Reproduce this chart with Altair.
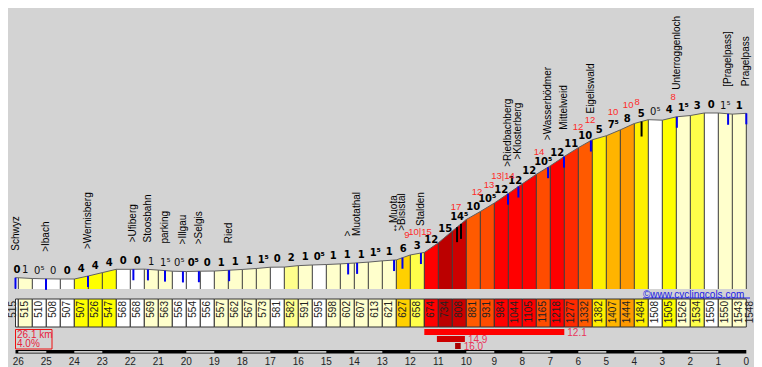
import altair as alt
import pandas as pd
import numpy as np

# ---------------- data ----------------
START_ELEV = 515
ELEVS = [515, 510, 508, 507, 507, 526, 547, 568, 568, 569, 563, 556, 554, 556, 557,
         562, 567, 573, 581, 582, 591, 595, 598, 602, 607, 613, 621, 627, 658, 674,
         734, 808, 881, 931, 984, 1044, 1105, 1165, 1218, 1277, 1332, 1382, 1407,
         1444, 1484, 1508, 1505, 1526, 1534, 1550, 1550, 1543]
END_ELEV = 1548
TOTAL_KM = 26.1
FIRST_KM = 0.1
STEP_KM = 0.5
GRAD = ["0", "1", "0⁵", "0", "0", "4", "4", "4", "0", "0", "1", "1⁵", "0⁵", "0⁵", "0",
        "1", "1", "1", "1⁵", "0", "2", "1", "0⁵", "1", "1", "1", "1⁵", "1", "6", "3",
        "12", "15", "14⁵", "10", "10⁵", "12", "12", "12", "10⁵", "12", "11", "10", "5",
        "7⁵", "8", "5", "0⁵", "4", "1⁵", "3", "0", "1⁵", "1"]
PLACE_NAMES = ["Schwyz", ">Ibach", ">Wernisberg", ">Ufiberg", "Stoosbahn", "parking",
               ">Illgau", ">Selgis", "Ried", ">", "Muotathal", "↔Muota", ">Bisistal",
               "Stalden", ">Riedbachberg", ">Klosterberg", ">Wasserbödmer", "Mittelweid",
               "Eigeliswald", "Unterroggenloch", "[Pragelpass]", "Pragelpass"]
PLACE_KM = [0.0, 1.09, 2.59, 4.21, 4.73, 5.34, 5.98, 6.55, 7.63, 11.88, 12.2, 13.52,
            13.82, 14.48, 17.59, 17.96, 19.02, 19.59, 20.55, 23.62, 25.45, 26.1]
BLACK_KM = [15.77, 15.91, 22.36]
RED_TXT = ["9", "10|15", "17", "12", "13", "13|14", "14", "12", "12", "10", "10", "8", "8"]
RED_KM = [13.98, 14.45, 15.73, 16.48, 16.91, 17.41, 18.7, 20.09, 20.52, 21.34, 21.88, 22.2, 23.49]
MAX_VALS = ["12.1", "14.9", "16.0"]
MAX_FROM = [14.6, 15.05, 15.7]
MAX_TO = [19.6, 16.05, 15.9]
KM_TICKS = list(range(26, -1, -1))

# ---------------- derived tables ----------------
bkm = [0.0] + [FIRST_KM + STEP_KM * k for k in range(len(ELEVS))] + [TOTAL_KM]
E = [START_ELEV] + ELEVS + [END_ELEV]


def grad_color(lbl):
    v = float(lbl.replace("⁵", ".5"))
    if v <= 0.5: return "#ffffff"
    if v < 2: return "#ffffcc"
    if v < 3: return "#ffff8c"
    if v < 4: return "#ffff4a"
    if v < 5: return "#ffff00"
    if v < 6: return "#fff000"
    if v < 7: return "#ffd000"
    if v < 8: return "#ffb400"
    if v < 9: return "#ff9900"
    if v < 10.5: return "#ff5a00"
    if v < 11: return "#ff4c00"
    if v < 12: return "#ff2a00"
    if v < 14: return "#ff0000"
    if v < 15: return "#cc0000"
    return "#bb0000"


area_rows, seg_rows = [], []
for i, g in enumerate(GRAD):
    c = grad_color(g)
    area_rows.append(dict(km=bkm[i], e=E[i], seg=i, col=c))
    area_rows.append(dict(km=bkm[i + 1], e=E[i + 1], seg=i, col=c))
    seg_rows.append(dict(k0=bkm[i], k1=bkm[i + 1], mid=(bkm[i] + bkm[i + 1]) / 2,
                         emid=(E[i] + E[i + 1]) / 2, lbl=g, desc=E[i + 1] < E[i], col=c,
                         elab=str(E[i]) if i > 0 else ""))
area_df = pd.DataFrame(area_rows)
seg_df = pd.DataFrame(seg_rows)
bound_df = pd.DataFrame(dict(km=bkm, e=E))
elab_df = pd.DataFrame(dict(km=list(seg_df["mid"][1:]) + [bkm[0] - 0.09, bkm[-1] + 0.14],
                            t=list(seg_df["elab"][1:]) + [str(E[0]), str(E[-1])]))
place_df = pd.DataFrame(dict(km=PLACE_KM, name=PLACE_NAMES, e=np.interp(PLACE_KM, bkm, E)))
black_df = pd.DataFrame(dict(km=BLACK_KM, e=np.interp(BLACK_KM, bkm, E)))
red_df = pd.DataFrame(dict(km=RED_KM, t=RED_TXT, e=np.interp(RED_KM, bkm, E)))
ticks_df = pd.DataFrame(dict(km=[TOTAL_KM - k for k in KM_TICKS], t=[str(k) for k in KM_TICKS]))
stripe_df = pd.DataFrame(dict(k0=[TOTAL_KM - k for k in KM_TICKS[:-1:2]],
                              k1=[TOTAL_KM - k + 1 for k in KM_TICKS[:-1:2]]))
avg = (E[-1] - E[0]) / (TOTAL_KM * 10)
one = pd.DataFrame(dict(a=[0]))

# ---------------- scales / styles ----------------
PX_KM = 28
X0 = 7.5
BOTTOM = 281
xs = alt.Scale(domain=[0, TOTAL_KM], range=[X0, X0 + TOTAL_KM * PX_KM], nice=False, zero=False)
ys = alt.Scale(domain=[444.17, 2209.7], range=[BOTTOM, 0], nice=False, zero=False)
FONT = "Liberation Sans"
BOLDFONT = "DejaVu Sans"
NARROW = "Liberation Sans Narrow, Liberation Sans"


def X(f):
    return alt.X(f + ":Q", scale=xs, axis=None)


def Y(f):
    return alt.Y(f + ":Q", scale=ys, axis=None, stack=None)


layers = []
layers.append(alt.Chart(area_df).mark_area(strokeWidth=0, opacity=1).encode(
    x=X("km"), y=Y("e"), y2=alt.value(BOTTOM), detail="seg:N", color=alt.Color("col:N", scale=None)))
layers.append(alt.Chart(bound_df).mark_rule(color="#3a3a3a", strokeWidth=1).encode(
    x=X("km"), y=Y("e"), y2=alt.value(BOTTOM)))
layers.append(alt.Chart(bound_df).mark_line(color="#606060", strokeWidth=1).encode(x=X("km"), y=Y("e")))

# gradient labels on top of the columns
layers.append(alt.Chart(seg_df).transform_filter("!datum.desc").mark_text(
    font=BOLDFONT, fontSize=10, fontWeight="bold", baseline="alphabetic", dy=-5, color="#000").encode(
    x=X("mid"), y=Y("emid"), text="lbl:N"))
layers.append(alt.Chart(seg_df).transform_filter("datum.desc").mark_text(
    font=BOLDFONT, fontSize=10, fontWeight="normal", baseline="alphabetic", dy=-5, color="#111").encode(
    x=X("mid"), y=Y("emid"), text="lbl:N"))

# place ticks + names
layers.append(alt.Chart(place_df).mark_rule(color="#0000ee", strokeWidth=2, y2Offset=11).encode(
    x=X("km"), y=Y("e"), y2=alt.Y2("e:Q")))
layers.append(alt.Chart(black_df).mark_rule(color="#000", strokeWidth=2, y2Offset=15).encode(
    x=X("km"), y=Y("e"), y2=alt.Y2("e:Q")))
layers.append(alt.Chart(place_df).mark_text(
    font=FONT, fontSize=10, angle=270, align="left", baseline="middle", dx=27, color="#000").encode(
    x=X("km"), y=Y("e"), text="name:N"))
layers.append(alt.Chart(red_df).mark_text(
    font=FONT, fontSize=9.5, baseline="middle", dy=-21, color="#ff2a2a").encode(
    x=X("km"), y=Y("e"), text="t:N"))

# copyright
layers.append(alt.Chart(one).mark_text(font=FONT, fontSize=10, align="left", baseline="middle",
                                       color="#1a1ae6", text="©www.cyclingcols.com").encode(
    x=alt.value(635), y=alt.value(287)))
layers.append(alt.Chart(one).mark_rule(color="#1a1ae6", strokeWidth=1).encode(
    x=alt.value(635), x2=alt.value(742), y=alt.value(290)))

# elevation band
layers.append(alt.Chart(seg_df).mark_rect(stroke="#333", strokeWidth=1).encode(
    x=X("k0"), x2=alt.X2("k1"), y=alt.value(291), y2=alt.value(319), color=alt.Color("col:N", scale=None)))
layers.append(alt.Chart(elab_df).mark_text(
    font=NARROW, fontSize=10, angle=270, align="right", baseline="middle", color="#222").encode(
    x=X("km"), y=alt.value(293), text="t:N"))

# summary box
layers.append(alt.Chart(one).mark_rect(fill=None, stroke="#ee1111", strokeWidth=1).encode(
    x=alt.value(7.5), x2=alt.value(44), y=alt.value(321.5), y2=alt.value(341)))
layers.append(alt.Chart(one).mark_text(font=FONT, fontSize=10, align="left", baseline="middle",
                                       color="#e8203c", text=f"{TOTAL_KM} km").encode(
    x=alt.value(9), y=alt.value(326.5)))
layers.append(alt.Chart(one).mark_text(font=FONT, fontSize=10, align="left", baseline="middle",
                                       color="#e8203c", text=f"{avg:.1f}%").encode(
    x=alt.value(9), y=alt.value(335.5)))

# steepest-section bars
bar_cols = ["#ff0000", "#cc0000", "#aa0000"]
for j in range(3):
    bdf = pd.DataFrame(dict(k0=[MAX_FROM[j]], k1=[MAX_TO[j]], t=[MAX_VALS[j]]))
    top = 321 + 7 * j
    layers.append(alt.Chart(bdf).mark_rect(color=bar_cols[j]).encode(
        x=X("k0"), x2=alt.X2("k1"), y=alt.value(top), y2=alt.value(top + 6)))
    layers.append(alt.Chart(bdf).mark_text(font=FONT, fontSize=10, align="left", baseline="middle",
                                           dx=3, color="#e8365a").encode(
        x=X("k1"), y=alt.value(top + 3.5), text="t:N"))

# distance axis
layers.append(alt.Chart(one).mark_rect(color="#000").encode(
    x=alt.value(X0), x2=alt.value(X0 + TOTAL_KM * PX_KM), y=alt.value(342), y2=alt.value(345.5)))
layers.append(alt.Chart(stripe_df).mark_rect(color="#fff").encode(
    x=X("k0"), x2=alt.X2("k1"), y=alt.value(343.2), y2=alt.value(344.6)))
layers.append(alt.Chart(ticks_df).mark_text(font=FONT, fontSize=10, baseline="middle", color="#222").encode(
    x=X("km"), y=alt.value(354), text="t:N"))

chart = alt.layer(*layers).properties(
    width=746, height=359, padding=0, autosize=alt.AutoSizeParams(type="none"),
    background="#d3d3d3").configure_view(stroke=None)

chart.save("out.html", embed_options={"renderer": "svg", "actions": False})
